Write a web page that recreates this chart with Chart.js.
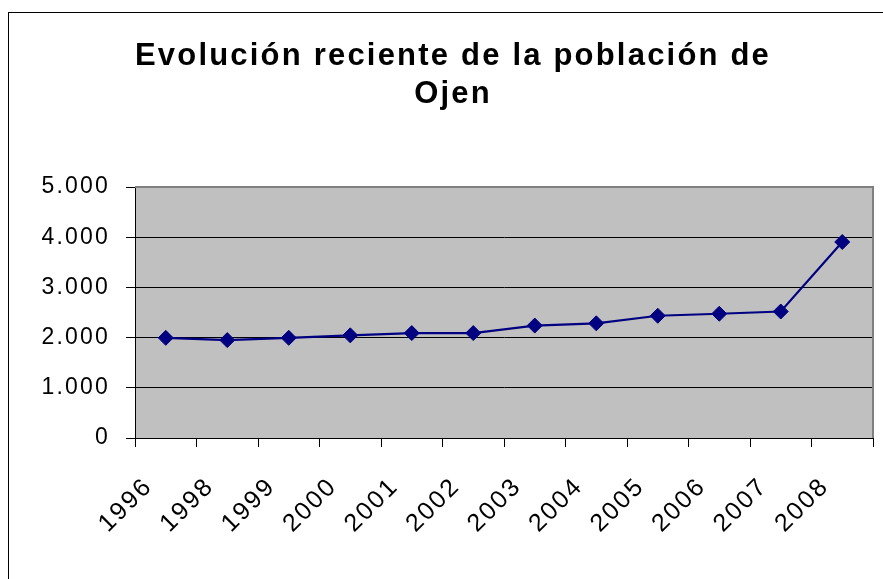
<!DOCTYPE html>
<html>
<head>
<meta charset="utf-8">
<script src="https://cdn.jsdelivr.net/npm/chart.js@4/dist/chart.umd.min.js"></script>
<style>
  html, body { margin: 0; padding: 0; background: #fff; overflow: hidden; }
  canvas { display: block; }
</style>
</head>
<body>
<canvas id="c" width="883" height="579"></canvas>
<script>
// ---- data ----
const titleLines = ['Evolución reciente de la población de', 'Ojen'];
const years = ['1996', '1998', '1999', '2000', '2001', '2002', '2003', '2004', '2005', '2006', '2007', '2008'];
const population = [1995, 1950, 1995, 2045, 2090, 2090, 2240, 2285, 2435, 2475, 2520, 3905];
const yTickValues = [0, 1000, 2000, 3000, 4000, 5000];
const yTickLabels = ['0', '1.000', '2.000', '3.000', '4.000', '5.000'];

const FONT = "'Liberation Sans', Arial, sans-serif";
const SPACING = '2.2px';

const decor = {
  id: 'decor',
  beforeUpdate(chart) { chart.ctx.letterSpacing = SPACING; },
  beforeDraw(chart) {
    const ctx = chart.ctx;
    ctx.letterSpacing = SPACING;
    const a = chart.chartArea;
    ctx.save();
    ctx.fillStyle = '#ffffff';
    ctx.fillRect(0, 0, chart.width, chart.height);
    ctx.strokeStyle = '#000000';
    ctx.lineWidth = 1;
    ctx.strokeRect(8.5, 12.5, 2000, 2000);
    ctx.fillStyle = '#C0C0C0';
    ctx.fillRect(a.left, a.top, a.right - a.left, a.bottom - a.top);
    ctx.restore();
  },
  beforeDatasetsDraw(chart) {
    const ctx = chart.ctx;
    const a = chart.chartArea;
    ctx.save();
    ctx.strokeStyle = '#808080';
    ctx.lineWidth = 2;
    ctx.beginPath();
    ctx.moveTo(a.left, a.top);
    ctx.lineTo(a.right, a.top);
    ctx.lineTo(a.right, a.bottom);
    ctx.stroke();
    ctx.restore();
  }
};

new Chart(document.getElementById('c'), {
  type: 'line',
  data: {
    labels: years,
    datasets: [{
      data: population,
      borderColor: '#000080',
      backgroundColor: '#000080',
      borderWidth: 2.2,
      pointStyle: 'rectRot',
      pointRadius: 7.5,
      pointHoverRadius: 7.5,
      pointBackgroundColor: '#000080',
      pointBorderColor: '#000080',
      pointBorderWidth: 1,
      tension: 0,
      fill: false
    }]
  },
  options: {
    responsive: false,
    animation: false,
    devicePixelRatio: 1,
    layout: { padding: { left: 33, right: 10, top: 0, bottom: 0 } },
    plugins: {
      legend: { display: false },
      tooltip: { enabled: false },
      title: {
        display: true,
        text: titleLines,
        color: '#000',
        font: { family: FONT, size: 31, weight: 'bold', lineHeight: 1.21 },
        padding: { top: 38, bottom: 74 }
      }
    },
    scales: {
      x: {
        type: 'category',
        offset: true,
        grid: {
          offset: true,
          drawOnChartArea: false,
          drawTicks: true,
          tickLength: 9,
          tickColor: '#000',
          color: '#000'
        },
        border: { display: true, color: '#000', width: 1 },
        ticks: {
          autoSkip: false,
          minRotation: 45,
          maxRotation: 45,
          padding: 25,
          labelOffset: -17,
          color: '#000',
          font: { family: FONT, size: 25 }
        },
        afterFit(scale) {
          scale.height = 141;
          scale.paddingLeft = 0;
          scale.paddingRight = 0;
        }
      },
      y: {
        min: 0,
        max: 5000,
        afterBuildTicks(scale) { scale.ticks = yTickValues.map(v => ({ value: v })); },
        grid: {
          drawTicks: true,
          tickLength: 9,
          tickColor: '#000',
          color: (c) => (c.tick && c.tick.value === 5000) ? 'rgba(0,0,0,0)' : '#000',
          lineWidth: 1
        },
        border: { display: true, color: '#000', width: 1 },
        ticks: {
          padding: 16,
          color: '#000',
          font: { family: FONT, size: 23 },
          callback: (v, i) => yTickLabels[i]
        },
        afterFit(scale) { scale.width = 102; }
      }
    }
  },
  plugins: [decor]
});
</script>
</body>
</html>
